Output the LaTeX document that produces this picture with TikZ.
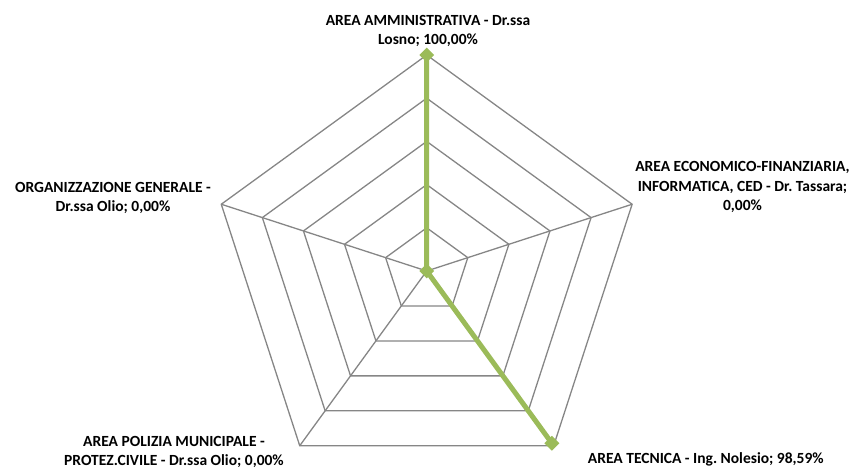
\documentclass[tikz,border=0pt]{standalone}
\usepackage{fontspec}
\setmainfont{Carlito}
\frenchspacing
\usetikzlibrary{shapes.geometric,calc}
\definecolor{gridgray}{HTML}{868686}
\definecolor{seriesgreen}{HTML}{9BBB59}
\tikzset{
  ring/.style={draw=gridgray, line width=1.3pt, line join=miter},
  spoke/.style={draw=gridgray, line width=1.3pt},
  series/.style={draw=seriesgreen, line width=5pt, line join=round},
  marker/.style={diamond, fill=seriesgreen, minimum size=15pt, inner sep=0pt},
  lbl/.style={font=\fontsize{15.5}{19.8}\selectfont\bfseries, align=center, inner sep=0pt, text=black}
}
\begin{document}
\begin{tikzpicture}[x=1pt,y=1pt]
\useasboundingbox (0,0) rectangle (856,469);
\coordinate (c) at (426.7,198);
\foreach \k in {1,...,5}{
  \pgfmathsetmacro{\r}{43.2*\k}
  \draw[ring] ($(c)+(90:\r)$) -- ($(c)+(18:\r)$) -- ($(c)+(-54:\r)$) -- ($(c)+(-126:\r)$) -- ($(c)+(162:\r)$) -- cycle;
}
\coordinate (vA) at ($(c)+(90:216)$);
\coordinate (vB) at ($(c)+(18:216)$);
\coordinate (vC) at ($(c)+(-54:216)$);
\coordinate (vD) at ($(c)+(-126:216)$);
\coordinate (vE) at ($(c)+(162:216)$);
\foreach \v in {vA,vB,vC,vD,vE}{ \draw[spoke] (c) -- (\v); }
\coordinate (pC) at ($(c)+(-54:212.95)$);
\draw[series] (vA) -- (c) -- (pC);
\node[marker] (mA) at (vA) {};
\node[marker] (m0) at (c) {};
\node[marker] (mC) at (pC) {};
\node[lbl] (lA) at (428,438) {AREA AMMINISTRATIVA - Dr.ssa\\Losno; 100,00\%};
\node[lbl] (lB) at (742.5,282) {AREA ECONOMICO-FINANZIARIA,\\INFORMATICA, CED - Dr. Tassara;\\0,00\%};
\node[lbl] (lC) at (705.8,10) {AREA TECNICA - Ing. Nolesio; 98,59\%};
\node[lbl] (lD) at (174,17) {AREA POLIZIA MUNICIPALE -\\PROTEZ.CIVILE - Dr.ssa Olio; 0,00\%};
\node[lbl] (lE) at (113,271) {ORGANIZZAZIONE GENERALE -\\Dr.ssa Olio; 0,00\%};
\end{tikzpicture}
\end{document}
